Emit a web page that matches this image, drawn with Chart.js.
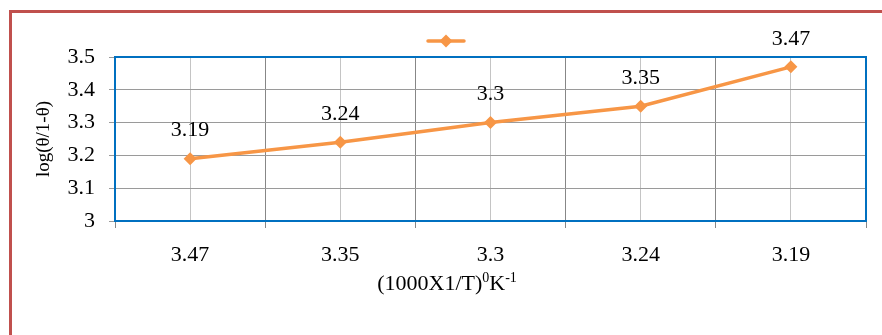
<!DOCTYPE html>
<html>
<head>
<meta charset="utf-8">
<script src="https://cdn.jsdelivr.net/npm/chart.js@4.4.1/dist/chart.umd.min.js"></script>
<style>
  html, body { margin: 0; padding: 0; background: #fff; overflow: hidden; }
  #wrap { position: relative; width: 882px; height: 335px; }
  #frame {
    position: absolute; left: 9px; top: 10px; width: 1000px; height: 1000px;
    border-left: 3px solid #C0504D; border-top: 3px solid #C0504D; box-sizing: border-box;
  }
  canvas { position: absolute; left: 0; top: 0; }
</style>
</head>
<body>
<div id="wrap">
  <div id="frame"></div>
  <canvas id="chart" width="882" height="335"></canvas>
</div>
<script>
// Reciprocal temperature categories and the measured log(θ/1-θ) values
const categories = ['3.47', '3.35', '3.3', '3.24', '3.19'];
const logValues = [3.19, 3.24, 3.3, 3.35, 3.47];
const yMin = 3;
const yMax = 3.5;
const yStep = 0.1;

const SERIF = '"Liberation Serif", "Times New Roman", serif';
const ORANGE = '#F79646';

// Legend marker: short orange line with a diamond on it
function makeLegendMarker() {
  const c = document.createElement('canvas');
  c.width = 76; c.height = 16;
  const g = c.getContext('2d');
  const cx = 54;
  g.strokeStyle = ORANGE;
  g.lineWidth = 3.5;
  g.lineCap = 'round';
  g.beginPath(); g.moveTo(cx - 18, 8); g.lineTo(cx + 18, 8); g.stroke();
  g.fillStyle = ORANGE;
  g.beginPath();
  g.moveTo(cx, 1.5); g.lineTo(cx + 6.5, 8); g.lineTo(cx, 14.5); g.lineTo(cx - 6.5, 8);
  g.closePath(); g.fill();
  return c;
}

// Blue frame around the plotting area
const plotFrame = {
  id: 'plotFrame',
  beforeDatasetsDraw(chart) {
    const { ctx, chartArea: a } = chart;
    ctx.save();
    ctx.strokeStyle = '#0070C0';
    ctx.lineWidth = 2;
    ctx.strokeRect(a.left, a.top, a.right - a.left, a.bottom - a.top);
    ctx.restore();
  }
};

// Value written above each point
const valueLabels = {
  id: 'valueLabels',
  afterDatasetsDraw(chart) {
    const { ctx } = chart;
    const meta = chart.getDatasetMeta(0);
    const data = chart.data.datasets[0].data;
    ctx.save();
    ctx.font = '22px ' + SERIF;
    ctx.fillStyle = '#000';
    ctx.textAlign = 'center';
    ctx.textBaseline = 'middle';
    meta.data.forEach((pt, i) => ctx.fillText(String(data[i]), pt.x, pt.y - 28));
    ctx.restore();
  }
};

// X-axis title with superscripts: (1000X1/T)⁰K⁻¹
const xTitle = {
  id: 'xTitle',
  afterDraw(chart) {
    const { ctx } = chart;
    const parts = [['(1000X1/T)', false], ['0', true], ['K', false], ['-1', true]];
    const big = '22px ' + SERIF, small = '14px ' + SERIF;
    ctx.save();
    ctx.fillStyle = '#000';
    ctx.textBaseline = 'alphabetic';
    let total = 0;
    parts.forEach(([t, sup]) => { ctx.font = sup ? small : big; total += ctx.measureText(t).width; });
    let x = 447 - total / 2;
    const base = 290;
    parts.forEach(([t, sup]) => {
      ctx.font = sup ? small : big;
      ctx.fillText(t, x, sup ? base - 8 : base);
      x += ctx.measureText(t).width;
    });
    ctx.restore();
  }
};

new Chart(document.getElementById('chart'), {
  type: 'line',
  data: {
    labels: categories,
    datasets: [{
      label: '',
      data: logValues,
      borderColor: ORANGE,
      backgroundColor: ORANGE,
      borderWidth: 3.5,
      pointStyle: 'rectRot',
      pointRadius: 6.5,
      pointHoverRadius: 6.5,
      pointBorderWidth: 0,
      fill: false,
      tension: 0
    }]
  },
  options: {
    responsive: false,
    animation: false,
    events: [],
    layout: { padding: { left: 0, right: 16, top: 25, bottom: 0 } },
    plugins: {
      tooltip: { enabled: false },
      legend: {
        display: true,
        position: 'top',
        labels: {
          usePointStyle: true,
          font: { size: 12 },
          padding: 10,
          generateLabels: () => [{ text: '', pointStyle: makeLegendMarker(), fillStyle: ORANGE, strokeStyle: ORANGE, lineWidth: 0, datasetIndex: 0 }]
        }
      }
    },
    scales: {
      x: {
        type: 'category',
        offset: true,
        grid: { offset: true, color: '#878787', lineWidth: 1, tickLength: 7, drawTicks: true },
        border: { display: true, color: '#878787' },
        ticks: { font: { family: SERIF, size: 22 }, color: '#000', padding: 14, maxRotation: 0 },
        afterFit(s) { s.height = 114; }
      },
      xc: {
        type: 'category',
        position: 'bottom',
        offset: true,
        grid: { offset: false, color: '#c4c4c4', lineWidth: 1, drawTicks: false },
        border: { display: false },
        ticks: { display: false },
        afterFit(s) { s.height = 0; }
      },
      y: {
        min: yMin,
        max: yMax,
        ticks: {
          stepSize: yStep,
          padding: 14,
          color: '#000',
          font: { family: SERIF, size: 22 },
          callback: v => String(Math.round(v * 10) / 10)
        },
        grid: { color: '#9a9a9a', lineWidth: 1, tickLength: 6 },
        border: { color: '#878787' },
        title: {
          display: true,
          text: 'log(θ/1-θ)',
          color: '#000',
          font: { family: SERIF, size: 19 },
          padding: { top: 33, bottom: 0 }
        },
        afterFit(s) { s.width = 115; }
      }
    }
  },
  plugins: [plotFrame, valueLabels, xTitle]
});
</script>
</body>
</html>
